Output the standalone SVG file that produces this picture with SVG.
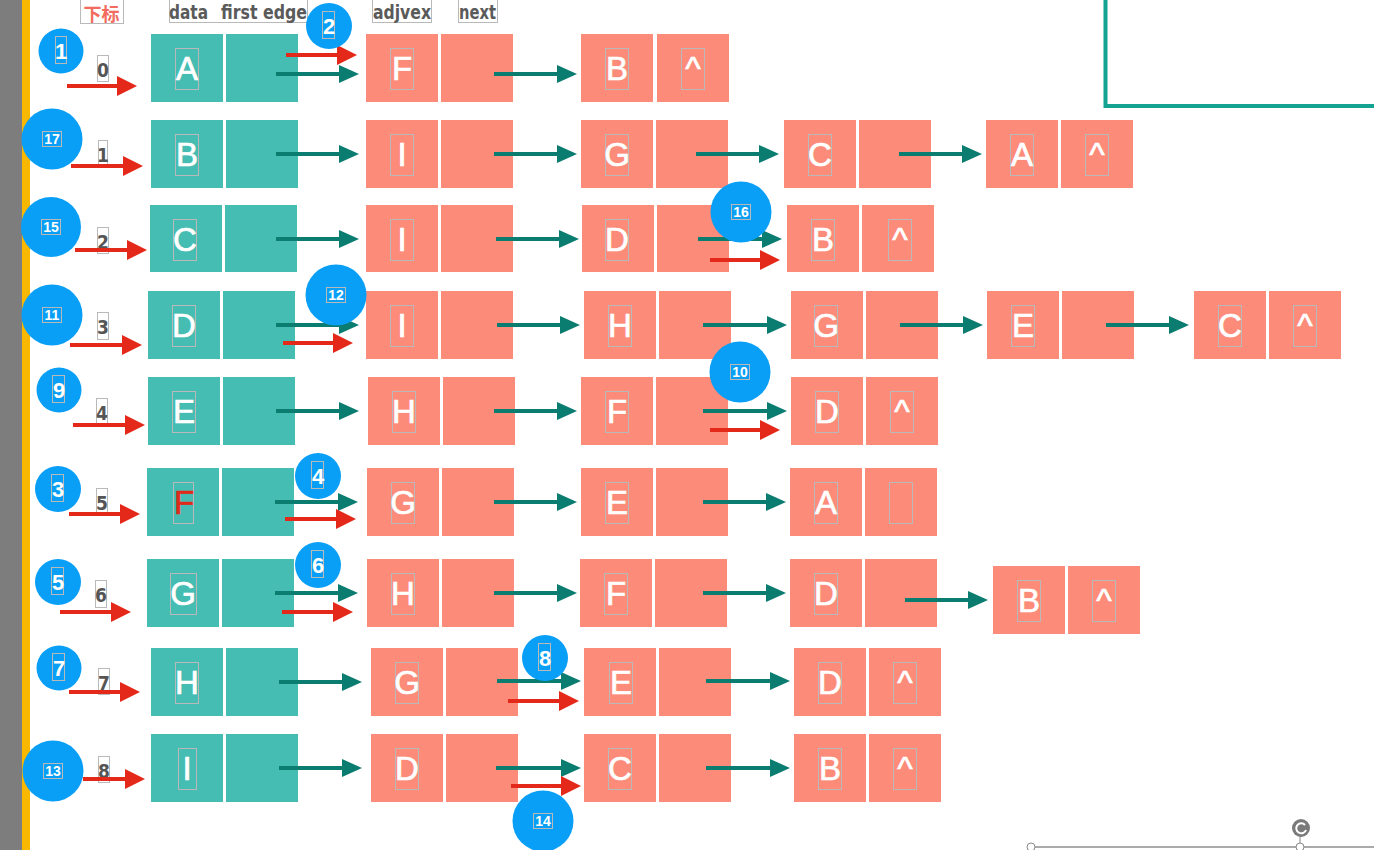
<svg xmlns="http://www.w3.org/2000/svg" width="1374" height="850" viewBox="0 0 1374 850">
<style>
.bg{fill:#ffffff}
.t{fill:#45bdb2}
.p{fill:#fd8b7a}
.ol{fill:none;stroke:#b9b9b9;stroke-width:1}
.lt{font-family:"Liberation Sans",Arial,sans-serif;font-size:33px;fill:#ffffff;stroke:#ffffff;stroke-width:0.7;text-anchor:middle}
.hd{font-family:"DejaVu Sans Condensed","Liberation Sans Narrow","Liberation Sans",sans-serif;font-size:20px;font-weight:bold;fill:#5a5a5a}
.ix{font-family:"DejaVu Sans Condensed","Liberation Sans Narrow","Liberation Sans",sans-serif;font-size:19px;font-weight:bold;fill:#555555;text-anchor:middle}
.bd{fill:#0a9ff7}
.n1{font-family:"Liberation Sans",Arial,sans-serif;font-size:22px;font-weight:bold;fill:#ffffff;text-anchor:middle}
.n2{font-family:"Liberation Sans",Arial,sans-serif;font-size:14px;font-weight:bold;fill:#ffffff;text-anchor:middle}
.tl{stroke:#0b7c70;stroke-width:4;fill:none;marker-end:url(#ht)}
.rl{stroke:#e4291b;stroke-width:4;fill:none;marker-end:url(#hr)}
</style>
<defs>
<marker id="ht" markerUnits="userSpaceOnUse" markerWidth="20" markerHeight="18" refX="1" refY="9" orient="auto"><path d="M0,0 L20,9 L0,18 z" fill="#0b7c70"/></marker>
<marker id="hr" markerUnits="userSpaceOnUse" markerWidth="20" markerHeight="20" refX="1" refY="10" orient="auto"><path d="M0,0 L20,10 L0,20 z" fill="#e4291b"/></marker>
</defs>
<rect class="bg" x="0" y="0" width="1374" height="850"/>
<g id="frame">
<rect x="0" y="0" width="22" height="850" fill="#7d7d7d"/>
<rect x="22" y="0" width="8" height="850" fill="#f9b800"/>
<rect x="1105.5" y="-10" width="290" height="116" fill="none" stroke="#14a391" stroke-width="4"/>
<line x1="1031" y1="847" x2="1374" y2="847" stroke="#aaaaaa" stroke-width="2"/>
<circle cx="1031" cy="847" r="4" fill="#ffffff" stroke="#888888" stroke-width="1"/>
<circle cx="1300" cy="847" r="4" fill="#ffffff" stroke="#888888" stroke-width="1"/>
<line x1="1300" y1="836" x2="1300" y2="843" stroke="#888888" stroke-width="1"/>
<circle cx="1301" cy="828" r="9" fill="#7a7a7a"/>
<path d="M1305,825 A5,5 0 1 0 1306,830" fill="none" stroke="#ffffff" stroke-width="2"/>
</g>
<g id="header">
<rect class="ol" x="80.5" y="-1" width="43" height="24.5"/>
<text x="101.5" y="21" font-family="'Noto Sans CJK SC',sans-serif" font-size="18" font-weight="bold" fill="#f26b5e" text-anchor="middle">下标</text>
<rect class="ol" x="169.5" y="-1" width="138" height="23.5"/>
<text class="hd" x="169" y="19" textLength="39" lengthAdjust="spacingAndGlyphs">data</text>
<text class="hd" x="221" y="19" textLength="86" lengthAdjust="spacingAndGlyphs">first edge</text>
<rect class="ol" x="372.5" y="-1" width="59" height="23.5"/>
<text class="hd" x="373" y="19" textLength="58" lengthAdjust="spacingAndGlyphs">adjvex</text>
<rect class="ol" x="458.5" y="-1" width="39" height="23.5"/>
<text class="hd" x="459" y="19" textLength="37" lengthAdjust="spacingAndGlyphs">next</text>
</g>
<g id="row0">
<rect class="t" x="151" y="34" width="72" height="68"/><rect class="t" x="226" y="34" width="72" height="68"/>
<rect class="ol" x="175.5" y="48.5" width="23" height="41"/><text class="lt" x="187" y="80">A</text>
<rect class="p" x="366" y="34" width="72" height="68"/><rect class="p" x="441" y="34" width="72" height="68"/>
<rect class="ol" x="390.5" y="48.5" width="23" height="41"/><text class="lt" x="402" y="80">F</text>
<rect class="p" x="581" y="34" width="72" height="68"/><rect class="p" x="657" y="34" width="72" height="68"/>
<rect class="ol" x="605.5" y="48.5" width="23" height="41"/><text class="lt" x="617" y="80">B</text>
<rect class="ol" x="681.5" y="48.5" width="23" height="41"/><text class="lt" x="693" y="80">^</text>
</g>
<g id="row1">
<rect class="t" x="151" y="120" width="72" height="68"/><rect class="t" x="226" y="120" width="72" height="68"/>
<rect class="ol" x="175.5" y="134.5" width="23" height="41"/><text class="lt" x="187" y="166">B</text>
<rect class="p" x="366" y="120" width="72" height="68"/><rect class="p" x="441" y="120" width="72" height="68"/>
<rect class="ol" x="390.5" y="134.5" width="23" height="41"/><text class="lt" x="402" y="166">I</text>
<rect class="p" x="581" y="120" width="72" height="68"/><rect class="p" x="656" y="120" width="72" height="68"/>
<rect class="ol" x="605.5" y="134.5" width="23" height="41"/><text class="lt" x="617" y="166">G</text>
<rect class="p" x="784" y="120" width="72" height="68"/><rect class="p" x="859" y="120" width="72" height="68"/>
<rect class="ol" x="808.5" y="134.5" width="23" height="41"/><text class="lt" x="820" y="166">C</text>
<rect class="p" x="986" y="120" width="72" height="68"/><rect class="p" x="1061" y="120" width="72" height="68"/>
<rect class="ol" x="1010.5" y="134.5" width="23" height="41"/><text class="lt" x="1022" y="166">A</text>
<rect class="ol" x="1085.5" y="134.5" width="23" height="41"/><text class="lt" x="1097" y="166">^</text>
</g>
<g id="row2">
<rect class="t" x="150" y="205" width="72" height="67"/><rect class="t" x="225" y="205" width="72" height="67"/>
<rect class="ol" x="173.5" y="219.5" width="23" height="41"/><text class="lt" x="185" y="251">C</text>
<rect class="p" x="366" y="205" width="72" height="67"/><rect class="p" x="441" y="205" width="72" height="67"/>
<rect class="ol" x="390.5" y="219.5" width="23" height="41"/><text class="lt" x="402" y="251">I</text>
<rect class="p" x="582" y="205" width="72" height="67"/><rect class="p" x="657" y="205" width="72" height="67"/>
<rect class="ol" x="605.5" y="219.5" width="23" height="41"/><text class="lt" x="617" y="251">D</text>
<rect class="p" x="787" y="205" width="72" height="67"/><rect class="p" x="862" y="205" width="72" height="67"/>
<rect class="ol" x="811.5" y="219.5" width="23" height="41"/><text class="lt" x="823" y="251">B</text>
<rect class="ol" x="888.5" y="219.5" width="23" height="41"/><text class="lt" x="900" y="251">^</text>
</g>
<g id="row3">
<rect class="t" x="148" y="291" width="72" height="68"/><rect class="t" x="223" y="291" width="72" height="68"/>
<rect class="ol" x="172.5" y="305.5" width="23" height="41"/><text class="lt" x="184" y="337">D</text>
<rect class="p" x="366" y="291" width="72" height="68"/><rect class="p" x="441" y="291" width="72" height="68"/>
<rect class="ol" x="390.5" y="305.5" width="23" height="41"/><text class="lt" x="402" y="337">I</text>
<rect class="p" x="584" y="291" width="72" height="68"/><rect class="p" x="659" y="291" width="72" height="68"/>
<rect class="ol" x="608.5" y="305.5" width="23" height="41"/><text class="lt" x="620" y="337">H</text>
<rect class="p" x="791" y="291" width="72" height="68"/><rect class="p" x="866" y="291" width="72" height="68"/>
<rect class="ol" x="814.5" y="305.5" width="23" height="41"/><text class="lt" x="826" y="337">G</text>
<rect class="p" x="987" y="291" width="72" height="68"/><rect class="p" x="1062" y="291" width="72" height="68"/>
<rect class="ol" x="1011.5" y="305.5" width="23" height="41"/><text class="lt" x="1023" y="337">E</text>
<rect class="p" x="1194" y="291" width="72" height="68"/><rect class="p" x="1269" y="291" width="72" height="68"/>
<rect class="ol" x="1218.5" y="305.5" width="23" height="41"/><text class="lt" x="1230" y="337">C</text>
<rect class="ol" x="1293.5" y="305.5" width="23" height="41"/><text class="lt" x="1305" y="337">^</text>
</g>
<g id="row4">
<rect class="t" x="148" y="377" width="72" height="68"/><rect class="t" x="223" y="377" width="72" height="68"/>
<rect class="ol" x="172.5" y="391.5" width="23" height="41"/><text class="lt" x="184" y="423">E</text>
<rect class="p" x="368" y="377" width="72" height="68"/><rect class="p" x="443" y="377" width="72" height="68"/>
<rect class="ol" x="392.5" y="391.5" width="23" height="41"/><text class="lt" x="404" y="423">H</text>
<rect class="p" x="581" y="377" width="72" height="68"/><rect class="p" x="656" y="377" width="72" height="68"/>
<rect class="ol" x="605.5" y="391.5" width="23" height="41"/><text class="lt" x="617" y="423">F</text>
<rect class="p" x="791" y="377" width="72" height="68"/><rect class="p" x="866" y="377" width="72" height="68"/>
<rect class="ol" x="815.5" y="391.5" width="23" height="41"/><text class="lt" x="827" y="423">D</text>
<rect class="ol" x="890.5" y="391.5" width="23" height="41"/><text class="lt" x="902" y="423">^</text>
</g>
<g id="row5">
<rect class="t" x="147" y="468" width="72" height="68"/><rect class="t" x="222" y="468" width="72" height="68"/>
<rect class="ol" x="173.5" y="482.5" width="20" height="41"/><text class="lt" x="184" y="514" style="fill:#e02a1a;stroke:#e02a1a">F</text>
<rect class="p" x="367" y="468" width="72" height="68"/><rect class="p" x="442" y="468" width="72" height="68"/>
<rect class="ol" x="391.5" y="482.5" width="23" height="41"/><text class="lt" x="403" y="514">G</text>
<rect class="p" x="581" y="468" width="72" height="68"/><rect class="p" x="656" y="468" width="72" height="68"/>
<rect class="ol" x="605.5" y="482.5" width="23" height="41"/><text class="lt" x="617" y="514">E</text>
<rect class="p" x="790" y="468" width="72" height="68"/><rect class="p" x="865" y="468" width="72" height="68"/>
<rect class="ol" x="814.5" y="482.5" width="23" height="41"/><text class="lt" x="826" y="514">A</text>
<rect class="ol" x="889.5" y="482.5" width="23" height="41"/>
</g>
<g id="row6">
<rect class="t" x="147" y="559" width="72" height="68"/><rect class="t" x="222" y="559" width="72" height="68"/>
<rect class="ol" x="170.5" y="573.5" width="26" height="41"/><text class="lt" x="183" y="605">G</text>
<rect class="p" x="367" y="559" width="72" height="68"/><rect class="p" x="442" y="559" width="72" height="68"/>
<rect class="ol" x="391.5" y="573.5" width="23" height="41"/><text class="lt" x="403" y="605">H</text>
<rect class="p" x="580" y="559" width="72" height="68"/><rect class="p" x="655" y="559" width="72" height="68"/>
<rect class="ol" x="604.5" y="573.5" width="23" height="41"/><text class="lt" x="616" y="605">F</text>
<rect class="p" x="790" y="559" width="72" height="68"/><rect class="p" x="865" y="559" width="72" height="68"/>
<rect class="ol" x="814.5" y="573.5" width="23" height="41"/><text class="lt" x="826" y="605">D</text>
<rect class="p" x="993" y="566" width="72" height="68"/><rect class="p" x="1068" y="566" width="72" height="68"/>
<rect class="ol" x="1017.5" y="580.5" width="23" height="41"/><text class="lt" x="1029" y="612">B</text>
<rect class="ol" x="1092.5" y="580.5" width="23" height="41"/><text class="lt" x="1104" y="612">^</text>
</g>
<g id="row7">
<rect class="t" x="151" y="648" width="72" height="68"/><rect class="t" x="226" y="648" width="72" height="68"/>
<rect class="ol" x="175.5" y="662.5" width="23" height="41"/><text class="lt" x="187" y="694">H</text>
<rect class="p" x="371" y="648" width="72" height="68"/><rect class="p" x="446" y="648" width="72" height="68"/>
<rect class="ol" x="395.5" y="662.5" width="23" height="41"/><text class="lt" x="407" y="694">G</text>
<rect class="p" x="584" y="648" width="72" height="68"/><rect class="p" x="659" y="648" width="72" height="68"/>
<rect class="ol" x="609.5" y="662.5" width="23" height="41"/><text class="lt" x="621" y="694">E</text>
<rect class="p" x="794" y="648" width="72" height="68"/><rect class="p" x="869" y="648" width="72" height="68"/>
<rect class="ol" x="818.5" y="662.5" width="23" height="41"/><text class="lt" x="830" y="694">D</text>
<rect class="ol" x="893.5" y="662.5" width="23" height="41"/><text class="lt" x="905" y="694">^</text>
</g>
<g id="row8">
<rect class="t" x="151" y="734" width="72" height="68"/><rect class="t" x="226" y="734" width="72" height="68"/>
<rect class="ol" x="178.5" y="748.5" width="18" height="41"/><text class="lt" x="187" y="780">I</text>
<rect class="p" x="371" y="734" width="72" height="68"/><rect class="p" x="446" y="734" width="72" height="68"/>
<rect class="ol" x="395.5" y="748.5" width="23" height="41"/><text class="lt" x="407" y="780">D</text>
<rect class="p" x="584" y="734" width="72" height="68"/><rect class="p" x="659" y="734" width="72" height="68"/>
<rect class="ol" x="608.5" y="748.5" width="23" height="41"/><text class="lt" x="620" y="780">C</text>
<rect class="p" x="794" y="734" width="72" height="68"/><rect class="p" x="869" y="734" width="72" height="68"/>
<rect class="ol" x="818.5" y="748.5" width="23" height="41"/><text class="lt" x="830" y="780">B</text>
<rect class="ol" x="893.5" y="748.5" width="23" height="41"/><text class="lt" x="905" y="780">^</text>
</g>
<g id="indices">
<rect class="ol" x="97.5" y="55.5" width="11" height="26"/><text class="ix" x="103" y="77">0</text>
<rect class="ol" x="98.5" y="140.5" width="9" height="27"/><text class="ix" x="103" y="162">1</text>
<rect class="ol" x="97.5" y="227.5" width="11" height="26"/><text class="ix" x="103" y="249">2</text>
<rect class="ol" x="97.5" y="312.5" width="11" height="27"/><text class="ix" x="103" y="334">3</text>
<rect class="ol" x="96.5" y="398.5" width="11" height="26"/><text class="ix" x="102" y="420">4</text>
<rect class="ol" x="96.5" y="488.5" width="11" height="26"/><text class="ix" x="102" y="510">5</text>
<rect class="ol" x="95.5" y="580.5" width="11" height="27"/><text class="ix" x="101" y="602">6</text>
<rect class="ol" x="98.5" y="668.5" width="11" height="26"/><text class="ix" x="104" y="690">7</text>
<rect class="ol" x="98.5" y="756.5" width="11" height="26"/><text class="ix" x="104" y="778">8</text>
</g>
<g id="connectors">
<line class="tl" x1="276" y1="74" x2="340" y2="74"/>
<line class="tl" x1="494" y1="74" x2="558" y2="74"/>
<line class="rl" x1="286" y1="55" x2="338" y2="55"/>
<line class="rl" x1="67" y1="86" x2="118" y2="86"/>
<line class="tl" x1="276" y1="154" x2="340" y2="154"/>
<line class="tl" x1="494" y1="154" x2="558" y2="154"/>
<line class="tl" x1="696" y1="154" x2="760" y2="154"/>
<line class="tl" x1="899" y1="154" x2="963" y2="154"/>
<line class="rl" x1="71" y1="166" x2="124" y2="166"/>
<line class="tl" x1="276" y1="239" x2="340" y2="239"/>
<line class="tl" x1="496" y1="239" x2="560" y2="239"/>
<line class="tl" x1="698" y1="239" x2="763" y2="239"/>
<line class="rl" x1="710" y1="260" x2="761" y2="260"/>
<line class="rl" x1="75" y1="250" x2="128" y2="250"/>
<line class="tl" x1="276" y1="325" x2="340" y2="325"/>
<line class="rl" x1="283" y1="343" x2="334" y2="343"/>
<line class="tl" x1="497" y1="325" x2="561" y2="325"/>
<line class="tl" x1="703" y1="325" x2="768" y2="325"/>
<line class="tl" x1="900" y1="325" x2="964" y2="325"/>
<line class="tl" x1="1106" y1="325" x2="1170" y2="325"/>
<line class="rl" x1="70" y1="345" x2="123" y2="345"/>
<line class="tl" x1="276" y1="411" x2="340" y2="411"/>
<line class="tl" x1="494" y1="411" x2="558" y2="411"/>
<line class="tl" x1="703" y1="411" x2="768" y2="411"/>
<line class="rl" x1="710" y1="430" x2="761" y2="430"/>
<line class="rl" x1="73" y1="425" x2="126" y2="425"/>
<line class="tl" x1="275" y1="502" x2="339" y2="502"/>
<line class="rl" x1="285" y1="519" x2="337" y2="519"/>
<line class="tl" x1="494" y1="502" x2="558" y2="502"/>
<line class="tl" x1="703" y1="502" x2="767" y2="502"/>
<line class="rl" x1="69" y1="514" x2="121" y2="514"/>
<line class="tl" x1="275" y1="593" x2="339" y2="593"/>
<line class="rl" x1="282" y1="612" x2="334" y2="612"/>
<line class="tl" x1="494" y1="593" x2="558" y2="593"/>
<line class="tl" x1="703" y1="593" x2="767" y2="593"/>
<line class="tl" x1="905" y1="600" x2="969" y2="600"/>
<line class="rl" x1="60" y1="612" x2="112" y2="612"/>
<line class="tl" x1="279" y1="682" x2="343" y2="682"/>
<line class="tl" x1="497" y1="681" x2="562" y2="681"/>
<line class="rl" x1="508" y1="701" x2="560" y2="701"/>
<line class="tl" x1="706" y1="681" x2="771" y2="681"/>
<line class="rl" x1="69" y1="692" x2="121" y2="692"/>
<line class="tl" x1="279" y1="768" x2="343" y2="768"/>
<line class="tl" x1="496" y1="768" x2="562" y2="768"/>
<line class="rl" x1="511" y1="786" x2="562" y2="786"/>
<line class="tl" x1="706" y1="768" x2="771" y2="768"/>
<line class="rl" x1="83" y1="779" x2="126" y2="779"/>
</g>
<g id="badges">
<g id="b1"><circle class="bd" cx="61" cy="51" r="22.5"/><rect class="ol" x="55.5" y="36.5" width="11" height="27"/><text class="n1" x="61" y="59">1</text></g>
<g id="b2"><circle class="bd" cx="329" cy="26" r="23"/><rect class="ol" x="322.5" y="11.5" width="12" height="27"/><text class="n1" x="329" y="34">2</text></g>
<g id="b3"><circle class="bd" cx="58" cy="489" r="23"/><rect class="ol" x="51.5" y="474.5" width="12" height="27"/><text class="n1" x="58" y="497">3</text></g>
<g id="b4"><circle class="bd" cx="318" cy="476" r="23"/><rect class="ol" x="311.5" y="461.5" width="12" height="27"/><text class="n1" x="318" y="484">4</text></g>
<g id="b5"><circle class="bd" cx="58" cy="582" r="23"/><rect class="ol" x="51.5" y="567.5" width="12" height="27"/><text class="n1" x="58" y="590">5</text></g>
<g id="b6"><circle class="bd" cx="318" cy="565" r="23"/><rect class="ol" x="311.5" y="550.5" width="12" height="27"/><text class="n1" x="318" y="573">6</text></g>
<g id="b7"><circle class="bd" cx="59" cy="668" r="22.5"/><rect class="ol" x="52.5" y="653.5" width="12" height="27"/><text class="n1" x="59" y="676">7</text></g>
<g id="b8"><circle class="bd" cx="545" cy="658" r="23"/><rect class="ol" x="538.5" y="643.5" width="12" height="27"/><text class="n1" x="545" y="666">8</text></g>
<g id="b9"><circle class="bd" cx="59" cy="390" r="22.5"/><rect class="ol" x="52.5" y="375.5" width="12" height="27"/><text class="n1" x="59" y="398">9</text></g>
<g id="b10"><circle class="bd" cx="740" cy="372" r="30.5"/><rect class="ol" x="730.5" y="364.5" width="19" height="15"/><text class="n2" x="740" y="377">10</text></g>
<g id="b11"><circle class="bd" cx="52" cy="315" r="30.5"/><rect class="ol" x="42.5" y="307.5" width="19" height="15"/><text class="n2" x="52" y="320">11</text></g>
<g id="b12"><circle class="bd" cx="336" cy="295" r="30.5"/><rect class="ol" x="326.5" y="287.5" width="19" height="15"/><text class="n2" x="336" y="300">12</text></g>
<g id="b13"><circle class="bd" cx="53" cy="771" r="30.5"/><rect class="ol" x="43.5" y="763.5" width="19" height="15"/><text class="n2" x="53" y="776">13</text></g>
<g id="b14"><circle class="bd" cx="543" cy="821" r="30.5"/><rect class="ol" x="533.5" y="813.5" width="19" height="15"/><text class="n2" x="543" y="826">14</text></g>
<g id="b15"><circle class="bd" cx="51" cy="227" r="30"/><rect class="ol" x="41.5" y="219.5" width="19" height="15"/><text class="n2" x="51" y="232">15</text></g>
<g id="b16"><circle class="bd" cx="741" cy="212" r="30.5"/><rect class="ol" x="731.5" y="204.5" width="19" height="15"/><text class="n2" x="741" y="217">16</text></g>
<g id="b17"><circle class="bd" cx="52" cy="139" r="30.5"/><rect class="ol" x="42.5" y="131.5" width="19" height="15"/><text class="n2" x="52" y="144">17</text></g>
</g>
</svg>
